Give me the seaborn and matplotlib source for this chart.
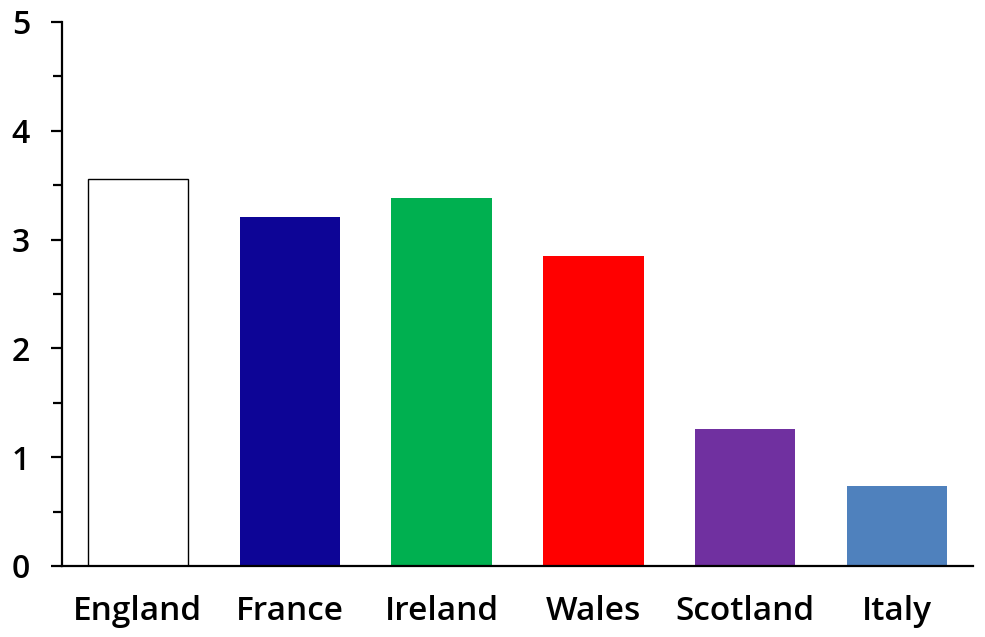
import matplotlib
matplotlib.use('Agg')
import matplotlib.pyplot as plt
import seaborn as sns
import pandas as pd
from matplotlib.ticker import MultipleLocator

# Data
countries = ['England', 'France', 'Ireland', 'Wales', 'Scotland', 'Italy']
values = [3.56, 3.21, 3.38, 2.85, 1.26, 0.735]
colors = ['#ffffff', '#0d0596', '#00b050', '#ff0000', '#7030a0', '#4f81bd']
yticks = [0, 1, 2, 3, 4, 5]

df = pd.DataFrame({'country': countries, 'value': values})

sns.set_style('white')
plt.rcParams['font.family'] = ['Open Sans', 'DejaVu Sans']

fig = plt.figure(figsize=(9.85, 6.37), dpi=100)
ax = fig.add_axes([62 / 985, 71 / 637, 911 / 985, 544 / 637])

sns.barplot(data=df, x='country', y='value', hue='country', palette=colors,
            legend=False, width=0.66, linewidth=0, saturation=1, ax=ax)

# only the white bar gets an outline
ax.patches[0].set_edgecolor('black')
ax.patches[0].set_linewidth(1.0)

ax.set_xlim(-0.5, 5.5)
ax.set_ylim(0, 5)
ax.set_yticks(yticks)
ax.yaxis.set_minor_locator(MultipleLocator(0.5))
ax.set_xlabel('')
ax.set_ylabel('')

sns.despine(ax=ax)
for s in ['left', 'bottom']:
    ax.spines[s].set_linewidth(1.6)
    ax.spines[s].set_color('black')

ax.tick_params(axis='y', which='major', direction='out', length=8, width=1.6,
               pad=15, labelsize=23, left=True, colors='black')
ax.tick_params(axis='y', which='minor', direction='out', length=6.5, width=1.6,
               left=True, colors='black')
ax.tick_params(axis='x', length=0, pad=21, labelsize=24, labelcolor='black')
for lbl in ax.get_xticklabels() + ax.get_yticklabels():
    lbl.set_fontweight('semibold')

plt.savefig('out.png', dpi=100)
